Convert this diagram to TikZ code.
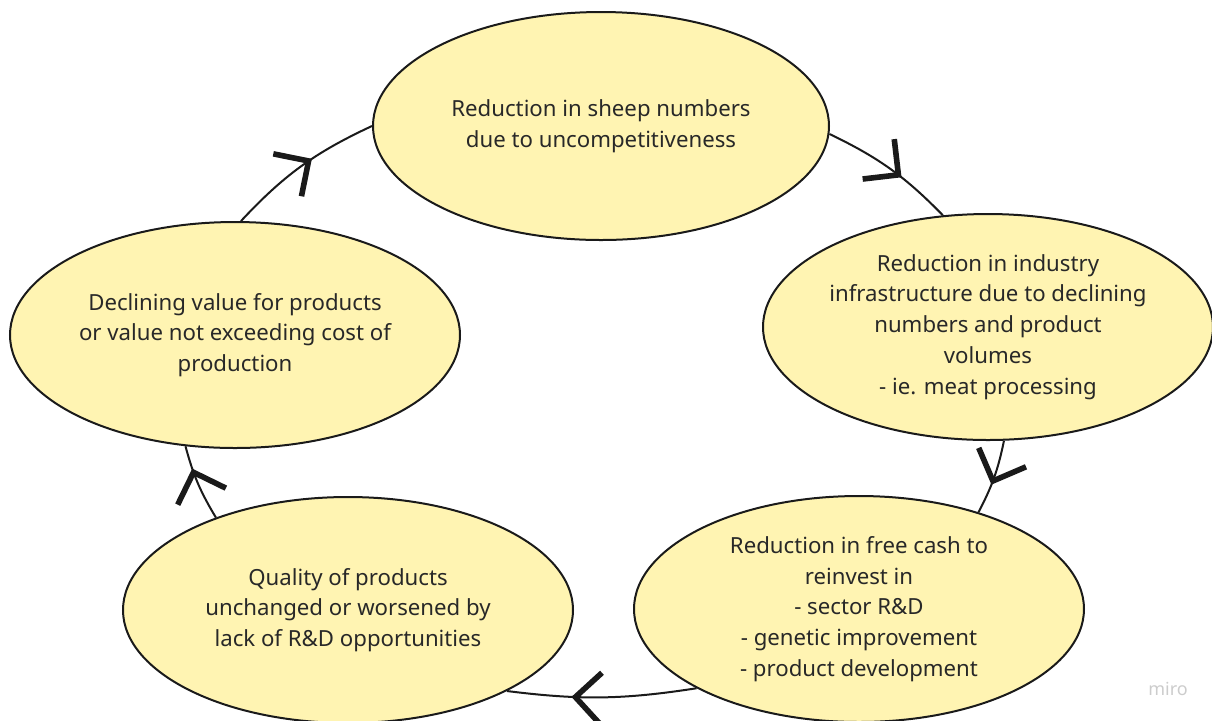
\documentclass[tikz,border=0pt]{standalone}
\usepackage{fontspec}
\setmainfont{Noto Sans}
\usetikzlibrary{arrows.meta,decorations.markings,shapes.geometric}
\definecolor{stagefill}{RGB}{255,244,178}
\definecolor{stageline}{RGB}{26,26,26}
\definecolor{stagetext}{RGB}{40,40,40}

\begin{document}
\begin{tikzpicture}[x=0.5pt,y=-0.5pt,font=\fontsize{11.1}{15.4}\selectfont,
  stage/.style={ellipse,draw=stageline,line width=1pt,fill=stagefill,text=stagetext,align=center,inner sep=0pt,minimum width=225pt,minimum height=113pt},
  link/.style={draw=stageline,line width=1pt,postaction={decorate},
    decoration={markings,mark=at position #1 with {\arrow{Straight Barb[angle=90:18pt,line width=2.8pt]}}}},
  link/.default=0.6]
  \useasboundingbox (0,0) rectangle (1212,720);

  % the five stages of the cycle
  \node[stage,minimum width=228pt,minimum height=114pt] (sheep) at (601,126) {Reduction in sheep numbers\\due to uncompetitiveness};
  \node[stage] (infra) at (988,327) {Reduction in industry\\infrastructure due to declining\\numbers and product\\volumes\\- ie. meat processing};
  \node[stage] (cash) at (859,609) {Reduction in free cash to\\reinvest in\\- sector R\&D\\- genetic improvement\\- product development};
  \node[stage] (quality) at (348,610) {Quality of products\\unchanged or worsened by\\lack of R\&D opportunities};
  \node[stage] (value) at (235,335) {Declining value for products\\or value not exceeding cost of\\production};

  % connectors round the loop
  \draw[link] (sheep.-2) to[bend left=10] (infra.112);
  \draw[link] (infra.-82) to[bend left=8] (cash.39);
  \draw[link=0.66] (cash.206) to[bend left=8] (quality.-27);
  \draw[link=0.7] (quality.145) to[bend left=8] (value.246);
  \draw[link=0.58] (value.87) to[bend left=11] (sheep.180);

  \node[text=black!20,font=\fontsize{9}{10}\selectfont\bfseries] (watermark) at (1168,689) {miro};
\end{tikzpicture}
\end{document}
